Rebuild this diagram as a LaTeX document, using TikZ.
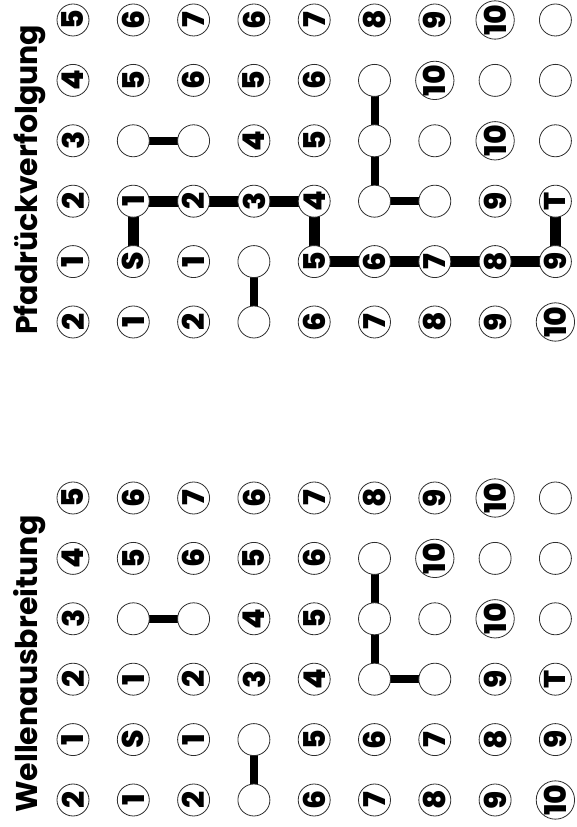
\documentclass[tikz,border=0pt]{standalone}
\usepackage{fontspec}
\newfontfamily\gothic{Poppins}[Numbers=Proportional]
\newfontfamily\gothicheavy{Poppins ExtraBold}[Numbers=Proportional]
\usetikzlibrary{backgrounds}
\definecolor{RingGray}{RGB}{45,45,45}

\begin{document}
\begin{tikzpicture}[x=60.3pt,y=60.4pt,
    cell/.style={circle,draw=RingGray,line width=0.8pt,fill=white,
      minimum size=32pt,inner sep=0pt,rotate=90,
      font=\gothicheavy\fontsize{30}{30}\selectfont},
    headline/.style={rotate=90,anchor=base west,inner sep=0pt,
      font=\gothic\bfseries\fontsize{30}{30}\selectfont},
    wall/.style={line width=8pt},
    route/.style={line width=11pt}]
  \useasboundingbox (0pt,0pt) rectangle (576pt,827pt);
  % titles
  \node[headline] (wtitle) at (38pt,14pt) {Wellenausbreitung};
  \node[headline] (ptitle) at (38pt,492pt) {Pfadrückverfolgung};
  % both grids, rows as read from the title
  \begin{scope}[shift={(12.7pt,-33.4pt)}]
    \foreach \g/\off in {W/0,P/7.914}{
      \foreach \row [count=\r] in {{2,1,2,3,4,5},{1,S,1,{},5,6},{2,1,2,{},6,7},
          {{},{},3,4,5,6},{6,5,4,5,6,7},{7,6,{},{},{},8},{8,7,{},{},10,9},
          {9,8,9,10,{},10},{10,9,T,{},{},{}}}
        \foreach \lab [count=\c] in \row
          \node[cell] (\g-\r-\c) at (\r,\c+\off) {\lab};
    }
  \end{scope}
  \begin{scope}[on background layer]
    % obstacles
    \foreach \g in {W,P}{
      \draw[wall] (\g-4-1.center) -- (\g-4-2.center);
      \draw[wall] (\g-2-4.center) -- (\g-3-4.center);
      \draw[wall] (\g-7-3.center) -- (\g-6-3.center) -- (\g-6-4.center) -- (\g-6-5.center);
    }
    % path back from T
    \draw[route] (P-2-2.center) -- (P-2-3.center) -- (P-5-3.center)
      -- (P-5-2.center) -- (P-9-2.center) -- (P-9-3.center);
  \end{scope}
\end{tikzpicture}
\end{document}
